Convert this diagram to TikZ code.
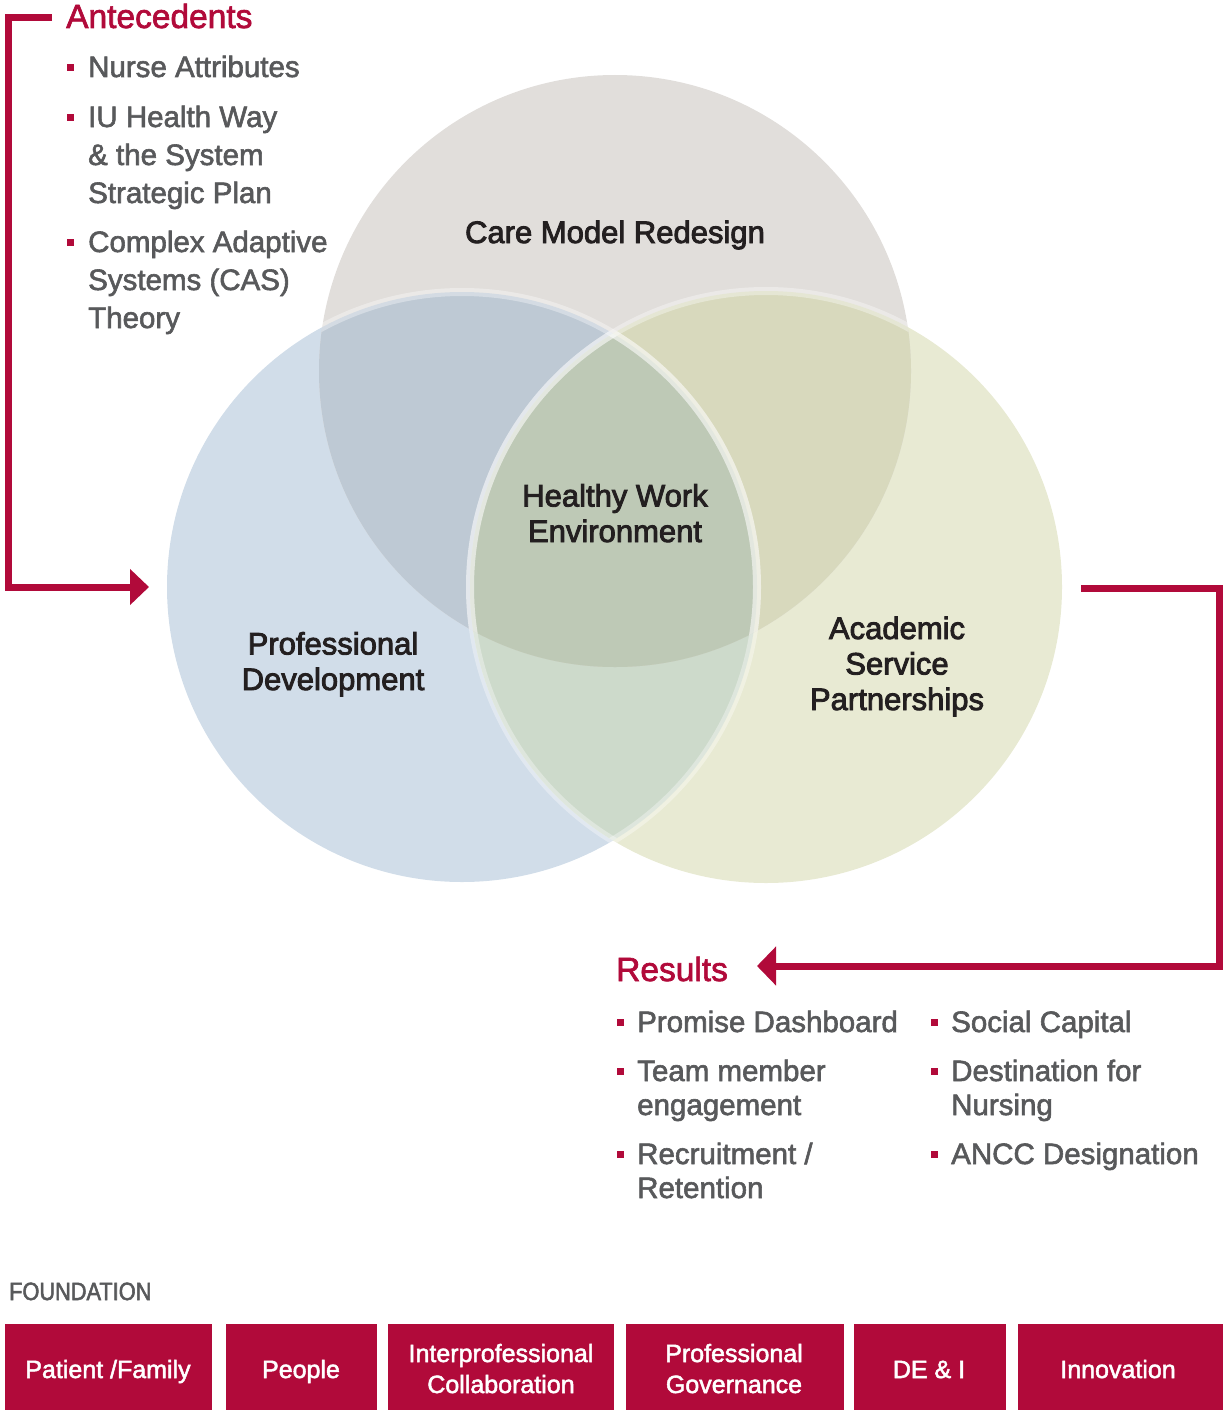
\documentclass[tikz,border=0pt]{standalone}
\usepackage{fontspec}
\setmainfont{Liberation Sans}[FakeBold=2.0]
\newfontfamily\labfont{Liberation Sans}[FakeBold=2.8]
\newfontfamily\condfont{Liberation Sans}[FakeBold=2.2,FakeStretch=0.87]
\usetikzlibrary{arrows.meta}
\definecolor{ired}{HTML}{B10A3A}
\definecolor{tgray}{HTML}{58595B}
\definecolor{tdark}{HTML}{231F20}
\definecolor{cTop}{HTML}{E1DEDB}
\definecolor{cLeft}{HTML}{D1DDE9}
\definecolor{cRight}{HTML}{E8EAD3}
\definecolor{cTL}{HTML}{BEC9D4}
\definecolor{cTR}{HTML}{D8D9BD}
\definecolor{cLR}{HTML}{CDDACB}
\definecolor{cAll}{HTML}{BEC9B6}
\begin{document}
\begin{tikzpicture}[x=1pt,y=-1pt,
  lab/.style={text=tdark,inner sep=0pt,font=\labfont\fontsize{31}{35.5}\selectfont,align=center,anchor=base},
  item/.style={text=tgray,inner sep=0pt,anchor=base west,align=left},
  ante/.style={item,font=\fontsize{29.5}{38}\selectfont},
  res/.style={item,font=\fontsize{29.5}{34}\selectfont},
  head/.style={text=ired,inner sep=0pt,anchor=base west,font=\fontsize{33.5}{38}\selectfont},
  bul/.style={fill=ired,inner sep=0pt,minimum size=7pt},
  fbox/.style={fill=ired,inner sep=0pt},
  ftext/.style={text=white,inner sep=0pt,align=center,anchor=base,font=\fontsize{25}{31}\selectfont},
  redln/.style={draw=ired,line width=7pt},
  ring/.style={draw=white,draw opacity=0.35,line width=8pt}]
\useasboundingbox (0,0) rectangle (1223,1410);

% circles
\coordinate (T) at (615,371);
\coordinate (L) at (462,587);
\coordinate (R) at (766,587);
\fill[cLeft] (L) circle[radius=295pt];
\fill[cRight] (R) circle[radius=296pt];
\fill[cTop] (T) circle[radius=296pt];
\begin{scope}
  \clip (L) circle[radius=295pt];
  \fill[cLR] (R) circle[radius=296pt];
\end{scope}
\begin{scope}
  \clip (T) circle[radius=296pt];
  \fill[cTL] (L) circle[radius=295pt];
  \fill[cTR] (R) circle[radius=296pt];
  \clip (L) circle[radius=295pt];
  \fill[cAll] (R) circle[radius=296pt];
\end{scope}
\begin{scope}
  \clip (T) circle[radius=296pt];
  \draw[ring] (L) circle[radius=295pt];
  \draw[ring] (R) circle[radius=296pt];
\end{scope}
\begin{scope}
  \clip (R) circle[radius=296pt];
  \draw[ring] (L) circle[radius=295pt];
\end{scope}
\begin{scope}
  \clip (L) circle[radius=295pt];
  \draw[ring] (R) circle[radius=296pt];
\end{scope}

% circle labels
\node[lab] (cmr) at (615,243) {Care Model Redesign};
\node[lab] (hwe) at (615,542) {Healthy Work\\Environment};
\node[lab] (pd) at (333,690) {Professional\\Development};
\node[lab] (asp) at (897,710) {Academic\\Service\\Partnerships};

% antecedents
\node[head] (ant) at (66,28) {Antecedents};
\node[bul] (ab1) at (70.5,67.5) {};
\node[ante] (a1) at (88,77) {Nurse Attributes};
\node[bul] (ab2) at (70.5,117.5) {};
\node[ante] (a2) at (88,203) {IU Health Way\\\& the System\\Strategic Plan};
\node[bul] (ab3) at (70.5,242.5) {};
\node[ante] (a3) at (88,328) {Complex Adaptive\\Systems (CAS)\\Theory};

% results
\node[head] (resh) at (616,981) {Results};
\node[bul] (rb1) at (620,1022) {};
\node[res] (r1) at (637,1032) {Promise Dashboard};
\node[bul] (rb2) at (620,1071) {};
\node[res] (r2) at (637,1115) {Team member\\engagement};
\node[bul] (rb3) at (620,1154) {};
\node[res] (r3) at (637,1198) {Recruitment /\\Retention};
\node[bul] (rb4) at (934,1022) {};
\node[res] (r4) at (951,1032) {Social Capital};
\node[bul] (rb5) at (934,1071) {};
\node[res] (r5) at (951,1115) {Destination for\\Nursing};
\node[bul] (rb6) at (934,1154) {};
\node[res] (r6) at (951,1164) {ANCC Designation};

% connectors
\coordinate (antS) at (52,17.5);
\coordinate (k1) at (8.5,17.5);
\coordinate (pdT) at (149,587);
\draw[redln,-{Triangle[length=19pt,width=35pt]}] (antS) -- (k1) |- (pdT);
\coordinate (rS) at (1081,588);
\coordinate (k2) at (1219.5,588);
\coordinate (resT) at (757,966);
\draw[redln,-{Triangle[length=19pt,width=38pt]}] (rS) -- (k2) |- (resT);

% foundation
\node[text=tgray,inner sep=0pt,anchor=base west,font=\condfont\fontsize{25}{28}\selectfont] (fnd) at (9,1300) {FOUNDATION};
\node[fbox,minimum width=207pt,minimum height=86pt] (b1) at (108.5,1367) {};
\node[fbox,minimum width=151pt,minimum height=86pt] (b2) at (301.5,1367) {};
\node[fbox,minimum width=226pt,minimum height=86pt] (b3) at (501,1367) {};
\node[fbox,minimum width=218pt,minimum height=86pt] (b4) at (735,1367) {};
\node[fbox,minimum width=152pt,minimum height=86pt] (b5) at (930,1367) {};
\node[fbox,minimum width=205pt,minimum height=86pt] (b6) at (1120.5,1367) {};
\node[ftext] (t1) at (108,1378) {Patient /Family};
\node[ftext] (t2) at (301,1378) {People};
\node[ftext] (t3) at (501,1393) {Interprofessional\\Collaboration};
\node[ftext] (t4) at (734,1393) {Professional\\Governance};
\node[ftext] (t5) at (929,1378) {DE \& I};
\node[ftext] (t6) at (1118,1378) {Innovation};
\end{tikzpicture}
\end{document}
